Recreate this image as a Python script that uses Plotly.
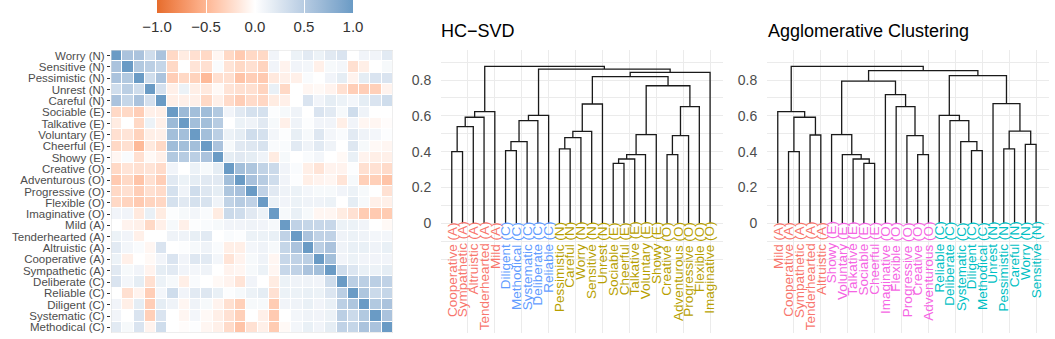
import plotly.graph_objects as go

# ---------------- data ----------------
traits = [
    "Worry (N)", "Sensitive (N)", "Pessimistic (N)", "Unrest (N)", "Careful (N)",
    "Sociable (E)", "Talkative (E)", "Voluntary (E)", "Cheerful (E)", "Showy (E)",
    "Creative (O)", "Adventurous (O)", "Progressive (O)", "Flexible (O)", "Imaginative (O)",
    "Mild (A)", "Tenderhearted (A)", "Altruistic (A)", "Cooperative (A)", "Sympathetic (A)",
    "Deliberate (C)", "Reliable (C)", "Diligent (C)", "Systematic (C)", "Methodical (C)",
]

# upper triangle of the correlation matrix: row i holds r(i, j) for j > i
corr_upper = [
    [0.58, 0.58, 0.33, 0.58, -0.26, -0.13, -0.21, -0.26, -0.06, -0.26, -0.36, -0.26, -0.26, 0.10, 0.00, 0.13, 0.20, 0.13, 0.21, 0.26, 0.00, 0.10, 0.10, 0.20],
    [0.53, 0.47, 0.40, -0.26, 0.00, -0.18, -0.21, 0.04, -0.18, -0.26, -0.21, -0.29, 0.10, -0.08, 0.10, 0.08, -0.10, 0.06, 0.08, -0.21, -0.11, 0.00, 0.06],
    [0.33, 0.58, -0.33, -0.26, -0.30, -0.47, -0.21, -0.21, -0.40, -0.33, -0.36, -0.15, -0.10, -0.10, 0.04, 0.00, 0.10, 0.18, -0.08, 0.18, 0.26, 0.26],
    [0.30, -0.10, 0.13, -0.11, -0.15, -0.04, -0.18, -0.21, -0.21, -0.29, 0.15, -0.26, 0.00, -0.06, -0.04, -0.08, -0.21, -0.33, -0.33, -0.32, -0.08],
    [-0.11, -0.10, -0.10, -0.26, -0.10, -0.24, -0.33, -0.24, -0.27, -0.13, -0.10, 0.00, 0.26, 0.10, 0.18, 0.13, 0.08, 0.18, 0.26, 0.33],
    [0.68, 0.63, 0.65, 0.53, 0.10, 0.21, 0.29, 0.29, 0.02, 0.06, 0.11, 0.00, 0.26, 0.20, 0.06, 0.33, 0.11, 0.00, 0.00],
    [0.63, 0.63, 0.50, 0.00, 0.13, 0.11, 0.21, 0.06, -0.10, 0.11, 0.02, 0.10, 0.10, -0.11, 0.10, -0.06, -0.06, -0.02],
    [0.63, 0.47, 0.13, 0.18, 0.33, 0.29, 0.08, 0.02, 0.16, 0.06, 0.23, 0.08, 0.04, 0.20, 0.11, 0.08, 0.02],
    [0.58, 0.06, 0.21, 0.23, 0.27, 0.04, 0.04, 0.20, 0.11, 0.20, 0.11, 0.00, 0.23, 0.06, -0.04, -0.06],
    [0.18, 0.21, 0.18, 0.11, -0.13, 0.06, 0.00, 0.04, 0.08, 0.00, -0.04, 0.15, -0.08, -0.11, -0.10],
    [0.63, 0.56, 0.43, 0.36, 0.10, 0.04, -0.11, -0.18, -0.08, -0.08, 0.02, -0.21, -0.20, -0.24],
    [0.60, 0.50, 0.33, 0.10, 0.02, -0.11, -0.08, -0.06, -0.18, 0.06, -0.32, -0.32, -0.40],
    [0.44, 0.21, 0.11, 0.13, 0.08, 0.06, 0.06, 0.10, 0.13, 0.06, 0.00, -0.20],
    [0.13, 0.10, 0.13, 0.11, 0.11, 0.13, 0.00, 0.18, 0.06, -0.10, -0.10],
    [0.06, 0.15, 0.06, -0.06, -0.06, -0.13, -0.20, -0.35, -0.36, -0.35],
    [0.44, 0.40, 0.39, 0.39, 0.13, 0.13, 0.10, 0.00, -0.04],
    [0.58, 0.44, 0.44, 0.11, 0.13, 0.11, 0.08, 0.08],
    [0.47, 0.58, 0.11, 0.15, 0.15, 0.11, 0.15],
    [0.63, 0.10, 0.13, 0.10, 0.10, 0.10],
    [0.33, 0.24, 0.15, 0.13, 0.18],
    [0.47, 0.47, 0.47, 0.44],
    [0.56, 0.36, 0.40],
    [0.53, 0.58],
    [0.58],
    [],
]

# HC-SVD dendrogram: leaves left to right, merges (child, child, height);
# ids < 25 are leaves, id 25 + k is merge k
hc_leaves = ["Cooperative", "Sympathetic", "Altruistic", "Tenderhearted", "Mild",
             "Diligent", "Methodical", "Systematic", "Deliberate", "Reliable",
             "Pessimistic", "Careful", "Worry", "Sensitive", "Unrest",
             "Sociable", "Cheerful", "Talkative", "Voluntary", "Showy",
             "Creative", "Adventurous", "Progressive", "Flexible", "Imaginative"]
hc_factor = ["A"] * 5 + ["C"] * 5 + ["N"] * 5 + ["E"] * 5 + ["O"] * 5
hc_cluster = [1] * 5 + [2] * 5 + [3] * 15
hc_merges = [
    (0, 1, 0.400), (25, 2, 0.540), (26, 3, 0.592), (27, 4, 0.623),
    (5, 6, 0.406), (29, 7, 0.456), (30, 8, 0.573), (31, 9, 0.603),
    (10, 11, 0.415), (33, 12, 0.478), (34, 13, 0.513), (35, 14, 0.666),
    (15, 16, 0.335), (37, 17, 0.359), (38, 18, 0.383), (39, 19, 0.495),
    (20, 21, 0.383), (41, 22, 0.489), (42, 23, 0.651),
    (40, 43, 0.768), (36, 44, 0.819), (45, 24, 0.843), (32, 46, 0.861), (28, 47, 0.876),
]

ag_leaves = ["Mild", "Cooperative", "Sympathetic", "Tenderhearted", "Altruistic",
             "Showy", "Voluntary", "Talkative", "Sociable", "Cheerful",
             "Imaginative", "Flexible", "Progressive", "Creative", "Adventurous",
             "Reliable", "Deliberate", "Systematic", "Diligent", "Methodical",
             "Unrest", "Pessimistic", "Careful", "Worry", "Sensitive"]
ag_factor = ["A"] * 5 + ["E"] * 5 + ["O"] * 5 + ["C"] * 5 + ["N"] * 5
ag_cluster = [1] * 5 + [4] * 10 + [5] * 10
ag_merges = [
    (1, 2, 0.400), (3, 4, 0.493), (25, 26, 0.592), (0, 27, 0.623),
    (8, 9, 0.335), (7, 29, 0.359), (6, 30, 0.383), (5, 31, 0.495),
    (13, 14, 0.383), (12, 33, 0.489), (11, 34, 0.651), (10, 35, 0.718),
    (32, 36, 0.794),
    (18, 19, 0.406), (17, 38, 0.456), (16, 39, 0.573), (15, 40, 0.603),
    (21, 22, 0.415), (23, 24, 0.441), (42, 43, 0.515), (20, 44, 0.668),
    (41, 45, 0.824), (37, 46, 0.852), (28, 47, 0.876),
]

cluster_colors = {1: "#F8766D", 2: "#619CFF", 3: "#B79F00", 4: "#F564E3", 5: "#00BFC4"}

# ---------------- helpers ----------------
def hex_to_lab(h):
    rgb = [int(h[i:i + 2], 16) / 255 for i in (1, 3, 5)]
    lin = [((c + 0.055) / 1.055) ** 2.4 if c > 0.04045 else c / 12.92 for c in rgb]
    X = (0.4124 * lin[0] + 0.3576 * lin[1] + 0.1805 * lin[2]) / 0.95047
    Y = 0.2126 * lin[0] + 0.7152 * lin[1] + 0.0722 * lin[2]
    Z = (0.0193 * lin[0] + 0.1192 * lin[1] + 0.9505 * lin[2]) / 1.08883
    f = lambda t: t ** (1 / 3) if t > 0.008856 else 7.787 * t + 16 / 116
    fx, fy, fz = f(X), f(Y), f(Z)
    return (116 * fy - 16, 500 * (fx - fy), 200 * (fy - fz))


def lab_to_rgb(L, a, b):
    fy = (L + 16) / 116
    fx = fy + a / 500
    fz = fy - b / 200
    g = lambda t: t ** 3 if t ** 3 > 0.008856 else (t - 16 / 116) / 7.787
    X, Y, Z = g(fx) * 0.95047, g(fy), g(fz) * 1.08883
    lin = [3.2406 * X - 1.5372 * Y - 0.4986 * Z,
           -0.9689 * X + 1.8758 * Y + 0.0415 * Z,
           0.0557 * X - 0.2040 * Y + 1.0570 * Z]
    out = []
    for c in lin:
        c = max(0.0, min(1.0, c))
        c = 1.055 * c ** (1 / 2.4) - 0.055 if c > 0.0031308 else 12.92 * c
        out.append(round(max(0, min(1, c)) * 255))
    return "rgb(%d,%d,%d)" % tuple(out)


def gradient2(low, mid, high, steps=12):
    lo, mi, hi = hex_to_lab(low), hex_to_lab(mid), hex_to_lab(high)
    scale = []
    for k in range(steps + 1):
        t = k / steps
        c = [lo[i] + (mi[i] - lo[i]) * t for i in range(3)]
        scale.append([0.5 * t, lab_to_rgb(*c)])
    for k in range(1, steps + 1):
        t = k / steps
        c = [mi[i] + (hi[i] - mi[i]) * t for i in range(3)]
        scale.append([0.5 + 0.5 * t, lab_to_rgb(*c)])
    return scale


def dendro_segments(merges, n):
    xs, hs = {i: i + 1 for i in range(n)}, {i: 0.0 for i in range(n)}
    sx, sy = [], []
    for k, (a, b, h) in enumerate(merges):
        sx += [xs[a], xs[a], xs[b], xs[b], None]
        sy += [hs[a], h, h, hs[b], None]
        xs[n + k] = (xs[a] + xs[b]) / 2
        hs[n + k] = h
    return sx, sy


n = len(traits)
corr = [[1.0] * n for _ in range(n)]
for i, row in enumerate(corr_upper):
    for k, v in enumerate(row):
        j = i + 1 + k
        corr[i][j] = v
        corr[j][i] = v

FONT = "Liberation Sans, Arial, sans-serif"
W, H = 1055, 339


def px_x(p):
    return p / W


def px_y(p):
    return 1 - p / H


fig = go.Figure()

# ---------------- heatmap ----------------
fig.add_trace(go.Heatmap(
    z=corr, x=list(range(n)), y=list(range(n)),
    zmin=-1, zmax=1, xgap=1, ygap=1,
    colorscale=gradient2("#E66C2C", "#FFFFFF", "#6A9BC5"),
    colorbar=dict(
        orientation="h", x=px_x(255), xanchor="center", y=1.0, yanchor="top",
        len=196, lenmode="pixels", thickness=13, outlinewidth=0,
        xpad=0, ypad=0,
        tickvals=[-1, -0.5, 0, 0.5, 1],
        ticktext=["\u22121.0", "\u22120.5", "0.0", "0.5", "1.0"],
        ticks="inside", ticklen=13, tickcolor="white", tickwidth=1,
        tickfont=dict(family=FONT, size=15, color="#333333"),
    ),
    xaxis="x", yaxis="y", hoverinfo="skip",
))

# ---------------- dendrograms ----------------
LABEL_Y = 0.02
for leaves, factor, cluster, merges, xa, ya in [
    (hc_leaves, hc_factor, hc_cluster, hc_merges, "x2", "y2"),
    (ag_leaves, ag_factor, ag_cluster, ag_merges, "x3", "y3"),
]:
    sx, sy = dendro_segments(merges, len(leaves))
    fig.add_trace(go.Scatter(
        x=sx, y=sy, mode="lines", line=dict(color="#1a1a1a", width=1.3),
        xaxis=xa, yaxis=ya, hoverinfo="skip", showlegend=False,
    ))
    for i, name in enumerate(leaves):
        fig.add_annotation(
            x=i + 1, y=LABEL_Y, xref=xa, yref=ya,
            text="%s (%s)" % (name, factor[i]), showarrow=False,
            textangle=-90, xanchor="center", yanchor="top",
            font=dict(family=FONT, size=13.5, color=cluster_colors[cluster[i]]),
        )

grid = "#EBEBEB"
dendro_x = dict(
    range=[0, 26.2], showticklabels=False, ticks="", zeroline=False,
    tickvals=[0, 5, 10, 15, 20, 25], showgrid=True, gridcolor=grid, gridwidth=1,
    minor=dict(tickvals=[2.5, 7.5, 12.5, 17.5, 22.5], showgrid=True, gridcolor=grid, gridwidth=0.6),
)
dendro_y = dict(
    range=[-0.6125, 0.9675], zeroline=False,
    tickvals=[0, 0.2, 0.4, 0.6, 0.8], ticktext=["0", "0.2", "0.4", "0.6", "0.8"],
    ticks="outside", ticklen=6, tickcolor="rgba(0,0,0,0)",
    tickfont=dict(family=FONT, size=14, color="#4D4D4D"),
    showgrid=True, gridcolor=grid, gridwidth=1,
    minor=dict(tickvals=[-0.2, -0.1, 0.1, 0.3, 0.5, 0.7, 0.9], showgrid=True, gridcolor=grid, gridwidth=0.6),
)

fig.update_layout(
    width=W, height=H,
    margin=dict(l=0, r=0, t=0, b=0, autoexpand=False),
    paper_bgcolor="white", plot_bgcolor="white",
    showlegend=False,
    font=dict(family=FONT),
    xaxis=dict(domain=[px_x(111), px_x(393)], range=[-0.5, n - 0.5], automargin=False,
               showticklabels=False, ticks="", showgrid=False, zeroline=False),
    yaxis=dict(domain=[px_y(333), px_y(50)], range=[n - 0.5, -0.5], automargin=False,
               tickvals=list(range(n)), ticktext=traits,
               ticks="outside", ticklen=3, tickcolor="#333333",
               tickfont=dict(family=FONT, size=11.5, color="#4D4D4D"),
               showgrid=False, zeroline=False),
    xaxis2=dict(domain=[px_x(441), px_x(723)], anchor="y2", automargin=False, **dendro_x),
    yaxis2=dict(domain=[px_y(333), px_y(50)], anchor="x2", automargin=False, **dendro_y),
    xaxis3=dict(domain=[px_x(767), px_x(1049)], anchor="y3", automargin=False, **dendro_x),
    yaxis3=dict(domain=[px_y(333), px_y(50)], anchor="x3", automargin=False, **dendro_y),
)

# heatmap panel border
fig.add_shape(type="rect", xref="x", yref="y", x0=-0.5, x1=n - 0.5, y0=-0.5, y1=n - 0.5,
              line=dict(color="#DDDDDD", width=1), layer="above")

# panel titles
fig.add_annotation(x=px_x(439), y=px_y(31), xref="paper", yref="paper",
                   text="HC\u2212SVD", showarrow=False, xanchor="left", yanchor="middle",
                   font=dict(family=FONT, size=18, color="black"))
fig.add_annotation(x=px_x(766), y=px_y(31), xref="paper", yref="paper",
                   text="Agglomerative Clustering", showarrow=False, xanchor="left", yanchor="middle",
                   font=dict(family=FONT, size=18, color="black"))

# the page's default 8px body margin would push the figure off its frame
fig.write_html("out.html", config={"displayModeBar": False},
               post_script="document.body.style.margin = '0px';")
